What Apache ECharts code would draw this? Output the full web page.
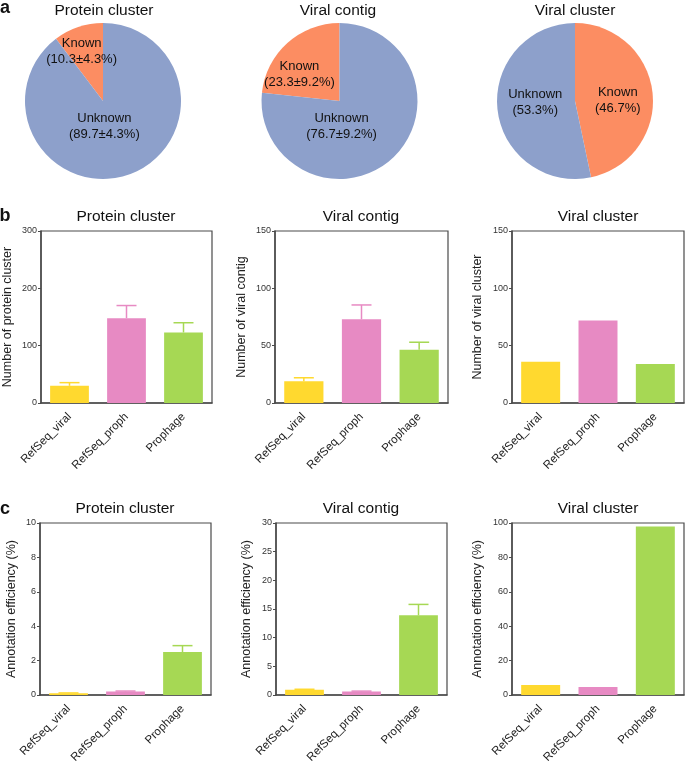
<!DOCTYPE html>
<html>
<head>
<meta charset="utf-8">
<script src="https://cdn.jsdelivr.net/npm/echarts@6/dist/echarts.min.js"></script>
<style>
  html, body { margin: 0; padding: 0; background: #fff; }
  #main { width: 685px; height: 766px; }
</style>
</head>
<body>
<div id="main"></div>
<script>
// ---- data ----
var pieTitles = ["Protein cluster", "Viral contig", "Viral cluster"];
var pieKnown = [10.3, 23.3, 46.7];
var pieUnknown = [89.7, 76.7, 53.3];
var pieSd = [4.3, 9.2, null];

var categories = ["RefSeq_viral", "RefSeq_proph", "Prophage"];

// row b: counts
var countProtein = [30, 148, 123];
var countProteinErr = [5.5, 22, 17];
var countContig = [19, 73, 46.5];
var countContigErr = [3, 12.5, 6.5];
var countCluster = [36, 72, 34];

// row c: annotation efficiency (%)
var effProtein = [0.1, 0.2, 2.5];
var effProteinErr = [0.02, 0.03, 0.37];
var effContig = [0.9, 0.6, 13.9];
var effContigErr = [0.1, 0.08, 1.9];
var effCluster = [5.8, 4.6, 98];

// ---- styles ----
var FONT = "Liberation Sans, Arial, sans-serif";
var barColors = ["#FFD92F", "#E78AC3", "#A6D854"];
var pieColors = { known: "#FC8D62", unknown: "#8DA0CB" };
var frameColor = "#4a4a4a";

var myChart = echarts.init(document.getElementById("main"));

// panel layouts (grid boxes)
var panels = [
  { left: 40, top: 231, width: 172, height: 172, max: 300, interval: 100, name: "Number of protein cluster", gap: 27, vals: countProtein, errs: countProteinErr },
  { left: 275, top: 231, width: 173, height: 172, max: 150, interval: 50, name: "Number of viral contig", gap: 27, vals: countContig, errs: countContigErr },
  { left: 512, top: 231, width: 172, height: 172, max: 150, interval: 50, name: "Number of viral cluster", gap: 28, vals: countCluster, errs: null },
  { left: 40, top: 523, width: 171, height: 172, max: 10, interval: 2, name: "Annotation efficiency (%)", gap: 22, vals: effProtein, errs: effProteinErr },
  { left: 276, top: 523, width: 171, height: 172, max: 30, interval: 5, name: "Annotation efficiency (%)", gap: 23, vals: effContig, errs: effContigErr },
  { left: 512, top: 523, width: 172, height: 172, max: 100, interval: 20, name: "Annotation efficiency (%)", gap: 28, vals: effCluster, errs: null }
];

var grids = [], xAxes = [], yAxes = [], series = [];

panels.forEach(function (p, gi) {
  grids.push({
    left: p.left, top: p.top, width: p.width, height: p.height,
    show: true, borderColor: frameColor, borderWidth: 1.2, backgroundColor: "transparent"
  });
  xAxes.push({
    type: "category", gridIndex: gi, data: categories,
    axisLine: { lineStyle: { color: frameColor, width: 1.5 } },
    axisTick: { alignWithLabel: true, length: 5, lineStyle: { color: frameColor, width: 1.2 } },
    axisLabel: { rotate: 45, interval: 0, margin: 12, fontSize: 11.5, color: "#222", fontFamily: FONT }
  });
  yAxes.push({
    type: "value", gridIndex: gi, min: 0, max: p.max, interval: p.interval,
    name: p.name, nameLocation: "middle", nameGap: p.gap,
    nameTextStyle: { fontSize: 12.5, color: "#222", fontFamily: FONT },
    splitLine: { show: false },
    axisLine: { show: true, lineStyle: { color: frameColor, width: 1.5 } },
    axisTick: { show: true, length: 3, lineStyle: { color: frameColor } },
    axisLabel: { fontSize: 9, margin: 4, color: "#333", fontFamily: FONT }
  });
  series.push({
    type: "bar", xAxisIndex: gi, yAxisIndex: gi, barWidth: "68%",
    data: p.vals,
    itemStyle: { color: function (params) { return barColors[params.dataIndex]; } },
    silent: true
  });
  if (p.errs) {
    series.push({
      type: "custom", xAxisIndex: gi, yAxisIndex: gi, z: 5, silent: true,
      data: p.vals.map(function (v, i) { return [i, v, v + p.errs[i]]; }),
      renderItem: function (params, api) {
        var base = api.coord([api.value(0), api.value(1)]);
        var top = api.coord([api.value(0), api.value(2)]);
        var c = barColors[api.value(0)];
        var st = { stroke: c, lineWidth: 1.5 };
        return {
          type: "group",
          children: [
            { type: "line", shape: { x1: base[0], y1: base[1], x2: base[0], y2: top[1] }, style: st },
            { type: "line", shape: { x1: base[0] - 10, y1: top[1], x2: base[0] + 10, y2: top[1] }, style: st }
          ]
        };
      }
    });
  }
});

// pies
var pieCenters = [[103, 101], [339.5, 101], [575, 101]];
var pieClockwise = [false, false, true];
// label nudges [known dx, dy, unknown dx, dy]
var pieNudge = [[-8, -10, -12, -14], [-12, 5, -26, -6], [1, 4, 2, -3]];

pieTitles.forEach(function (t, i) {
  var sd = pieSd[i];
  var fmtK = sd ? "(" + pieKnown[i] + "±" + sd + "%)" : "(" + pieKnown[i] + "%)";
  var fmtU = sd ? "(" + pieUnknown[i] + "±" + sd + "%)" : "(" + pieUnknown[i] + "%)";
  series.push({
    type: "pie", center: pieCenters[i], radius: 78, startAngle: 90,
    clockwise: pieClockwise[i], silent: true,
    label: {
      show: true, position: "inside", color: "#111", fontSize: 13, lineHeight: 16,
      fontFamily: FONT, align: "center"
    },
    labelLine: { show: false },
    labelLayout: function (params) {
      var n = pieNudge[i];
      return params.dataIndex === 0 ? { dx: n[0], dy: n[1] } : { dx: n[2], dy: n[3] };
    },
    data: [
      { name: "Known", value: pieKnown[i], itemStyle: { color: pieColors.known }, label: { formatter: "Known\n" + fmtK } },
      { name: "Unknown", value: pieUnknown[i], itemStyle: { color: pieColors.unknown }, label: { formatter: "Unknown\n" + fmtU } }
    ]
  });
});

// titles and panel letters
function txt(x, y, s, size, bold) {
  return {
    type: "text", x: x, y: y, silent: true,
    style: {
      text: s, align: "center", verticalAlign: "middle", fill: "#111",
      fontSize: size, fontWeight: bold ? "bold" : "normal", fontFamily: FONT
    }
  };
}
var graphics = [
  txt(5, 8, "a", 18, true), txt(5, 216, "b", 18, true), txt(5, 509, "c", 18, true),
  txt(104, 10.5, pieTitles[0], 15.5), txt(338, 10.5, pieTitles[1], 15.5), txt(575, 10.5, pieTitles[2], 15.5),
  txt(126, 217, pieTitles[0], 15.5), txt(361, 217, pieTitles[1], 15.5), txt(598, 217, pieTitles[2], 15.5),
  txt(125, 509, pieTitles[0], 15.5), txt(361, 509, pieTitles[1], 15.5), txt(598, 509, pieTitles[2], 15.5)
];

var option = {
  animation: false,
  backgroundColor: "#fff",
  grid: grids,
  xAxis: xAxes,
  yAxis: yAxes,
  series: series,
  graphic: graphics
};
myChart.setOption(option);
</script>
</body>
</html>
